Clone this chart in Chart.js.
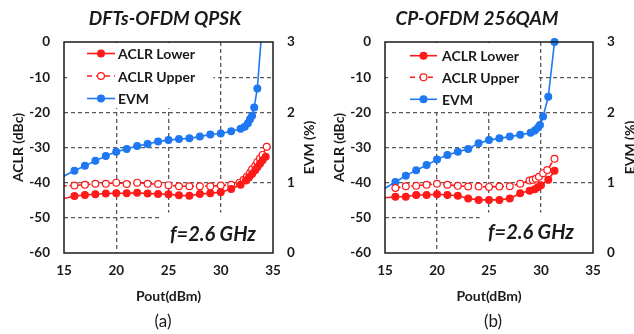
<!DOCTYPE html>
<html>
<head>
<meta charset="utf-8">
<script src="https://cdn.jsdelivr.net/npm/chart.js@4.4.0/dist/chart.umd.min.js"></script>
<style>
  body { margin: 0; background: #fff; }
  #wrap { display: flex; width: 634px; height: 334px; }
  .panel { position: relative; width: 317px; height: 334px; }
</style>
</head>
<body>
<div id="wrap">
  <div class="panel"><canvas id="chartA" width="317" height="334"></canvas></div>
  <div class="panel"><canvas id="chartB" width="317" height="334"></canvas></div>
</div>
<script>
// ---- data ----
// (a) DFTs-OFDM QPSK
const evmA_pout = [14, 16, 17, 18, 19, 20, 21, 22, 23, 24, 25, 26, 27, 28, 29, 30, 31, 31.9, 32.3, 32.6, 32.8, 33.0, 33.2, 33.5, 34.0];
const evmA = [1.02, 1.17, 1.24, 1.31, 1.38, 1.44, 1.48, 1.52, 1.55, 1.585, 1.605, 1.62, 1.63, 1.655, 1.685, 1.70, 1.73, 1.765, 1.795, 1.845, 1.90, 1.95, 2.07, 2.34, 3.3];
const lowerA_pout = [14, 16, 17, 18, 19, 20, 21, 22, 23, 24, 25, 26, 27, 28, 29, 30, 31, 31.9, 32.4, 32.7, 33.0, 33.3, 33.5, 33.75, 34.0, 34.3];
const lowerA = [-45.2, -43.8, -43.5, -43.3, -43.1, -43.0, -43.0, -42.9, -43.1, -43.2, -43.3, -43.6, -43.7, -43.2, -43.0, -42.7, -41.8, -40.6, -39.4, -38.5, -37.5, -36.5, -35.6, -34.6, -33.6, -32.6];
const upperA_pout = [14, 16, 17, 18, 19, 20, 21, 22, 23, 24, 25, 26, 27, 28, 29, 30, 31, 31.8, 32.2, 32.5, 32.8, 33.0, 33.3, 33.5, 33.75, 34.0, 34.4];
const upperA = [-41.0, -40.8, -40.6, -40.3, -40.3, -40.0, -40.4, -40.0, -40.3, -40.4, -40.7, -41.0, -41.0, -41.0, -41.0, -40.8, -40.6, -40.0, -39.2, -38.3, -37.2, -36.2, -35.2, -34.1, -33.1, -32.1, -29.8];

// (b) CP-OFDM 256QAM
const evmB_pout = [14, 16, 17, 18, 19, 20, 21, 22, 23, 24, 25, 26, 27, 28, 29, 29.4, 29.7, 29.9, 30.2, 30.7, 31.3];
const evmB = [0.83, 1.01, 1.10, 1.175, 1.25, 1.33, 1.395, 1.44, 1.48, 1.56, 1.605, 1.63, 1.655, 1.68, 1.71, 1.74, 1.78, 1.82, 1.94, 2.22, 3.0];
const lowerB_pout = [14, 16, 17, 18, 19, 20, 21, 22, 23, 24, 25, 26, 27, 28, 28.9, 29.4, 29.7, 30.0, 30.7, 31.3];
const lowerB = [-44.6, -44.0, -44.0, -43.5, -43.5, -43.3, -43.5, -43.7, -44.5, -44.9, -44.9, -44.9, -44.5, -43.0, -42.3, -41.9, -41.3, -40.7, -39.2, -36.6];
const upperB_pout = [16, 17, 18, 19, 20, 21, 22, 23, 24, 25, 26, 27, 28, 28.9, 29.2, 29.5, 29.8, 30.2, 30.6, 31.3];
const upperB = [-41.5, -41.0, -40.9, -40.6, -40.3, -40.6, -40.9, -41.1, -41.1, -41.2, -41.1, -41.0, -40.3, -39.4, -39.2, -38.9, -38.3, -37.3, -36.4, -33.2];

const seriesNames = ['ACLR Lower', 'ACLR Upper', 'EVM'];
const poutTicks = [15, 20, 25, 30, 35];
const aclrRange = [-60, 0];
const evmRange = [0, 3];

const RED = '#ff1a1a';
const BLUE = '#1f78f2';
const FONT = 'Lato, "Open Sans", sans-serif';

function pts(xs, ys) {
  return xs.map((x, i) => ({ x: x, y: ys[i] }));
}

// white boxes behind legend / annotation + frame + extra text
const extras = {
  id: 'extras',
  beforeDatasetsDraw(chart, args, o) {
    const ctx = chart.ctx, x = chart.scales.x, y = chart.scales.y;
    ctx.save();
    ctx.fillStyle = '#fff';
    o.boxes.forEach(b => {
      const x1 = x.getPixelForValue(b[0]), x2 = x.getPixelForValue(b[1]);
      const y1 = y.getPixelForValue(b[2]), y2 = y.getPixelForValue(b[3]);
      ctx.fillRect(x1, y1, x2 - x1, y2 - y1);
    });
    ctx.restore();
  },
  afterDraw(chart, args, o) {
    const ctx = chart.ctx, a = chart.chartArea;
    ctx.save();
    // frame
    ctx.strokeStyle = '#1a1a1a';
    ctx.lineWidth = 1.5;
    ctx.strokeRect(a.left, a.top, a.right - a.left, a.bottom - a.top);

    ctx.fillStyle = '#1a1a1a';
    ctx.textBaseline = 'middle';
    ctx.textAlign = 'center';
    // title
    ctx.font = 'italic bold 19px ' + FONT;
    ctx.fillText(o.title, o.titleX, 19);
    // x title
    ctx.font = 'bold 14px ' + FONT;
    ctx.fillText('Pout(dBm)', (a.left + a.right) / 2, 296);
    // y titles
    const midY = (a.top + a.bottom) / 2;
    ctx.save();
    ctx.translate(o.yTitleX, midY);
    ctx.rotate(-Math.PI / 2);
    ctx.fillText('ACLR (dBc)', 0, 0);
    ctx.restore();
    ctx.save();
    ctx.translate(o.y2TitleX, midY);
    ctx.rotate(-Math.PI / 2);
    ctx.fillText('EVM (%)', 0, 0);
    ctx.restore();
    // caption
    ctx.font = '17px ' + FONT;
    ctx.fillText(o.caption, o.captionX, 322);
    // annotation
    ctx.font = 'italic bold 20px ' + FONT;
    ctx.fillText('f=2.6 GHz', a.left + o.annoX, o.annoY);

    // legend
    const lg = o.legend;
    ctx.textAlign = 'left';
    ctx.font = 'bold 14px ' + FONT;
    seriesNames.forEach((name, i) => {
      const ly = a.top + lg.rows[i];
      const x1 = a.left + lg.x1, x2 = a.left + lg.x2, xm = (x1 + x2) / 2;
      const col = i === 2 ? BLUE : RED;
      ctx.strokeStyle = col;
      ctx.lineWidth = 1.6;
      ctx.setLineDash(i === 1 ? [5, 4] : []);
      ctx.beginPath();
      ctx.moveTo(x1, ly);
      ctx.lineTo(x2, ly);
      ctx.stroke();
      ctx.setLineDash([]);
      ctx.beginPath();
      ctx.arc(xm, ly, 3.4, 0, Math.PI * 2);
      ctx.fillStyle = i === 1 ? '#fff' : col;
      ctx.fill();
      ctx.lineWidth = 1.2;
      ctx.stroke();
      ctx.fillStyle = '#1a1a1a';
      ctx.fillText(name, a.left + lg.text, ly + 1);
    });
    ctx.restore();
  }
};

function makeChart(id, d, p) {
  const tickFont = { family: FONT, size: 13.5, weight: 'bold' };
  const line = (label, data, color, open, dash, clip, axis) => ({
    label: label,
    data: data,
    yAxisID: axis,
    borderColor: color,
    backgroundColor: open ? '#fff' : color,
    pointBackgroundColor: open ? '#fff' : color,
    pointBorderColor: color,
    pointBorderWidth: 1.2,
    pointRadius: 3.4,
    borderWidth: 1.6,
    borderDash: dash,
    tension: 0,
    clip: clip
  });
  return new Chart(document.getElementById(id), {
    type: 'line',
    data: {
      datasets: [
        line(seriesNames[0], pts(d.lowerX, d.lower), RED, false, [], 0, 'y'),
        line(seriesNames[1], pts(d.upperX, d.upper), RED, true, [5, 3], 0, 'y'),
        line(seriesNames[2], pts(d.evmX, d.evm), BLUE, false, [], p.evmClip, 'y2')
      ]
    },
    options: {
      responsive: false,
      animation: false,
      devicePixelRatio: 1,
      layout: { padding: { top: 42, bottom: 0, left: 0, right: 0 } },
      plugins: {
        legend: { display: false },
        tooltip: { enabled: false },
        extras: p
      },
      scales: {
        x: {
          type: 'linear',
          min: poutTicks[0],
          max: poutTicks[poutTicks.length - 1],
          afterBuildTicks: s => { s.ticks = poutTicks.map(v => ({ value: v })); },
          afterFit: s => { s.height = 81; },
          ticks: { font: tickFont, color: '#1a1a1a', padding: 10, maxRotation: 0 },
          grid: {
            drawTicks: false,
            lineWidth: 1.3,
            color: c => (c.tick && (c.tick.value === 15 || c.tick.value === 35)) ? 'rgba(0,0,0,0)' : '#5a5a5a'
          },
          border: { display: false, dash: [4, 3] }
        },
        y: {
          position: 'left',
          min: aclrRange[0],
          max: aclrRange[1],
          afterFit: s => { s.width = p.leftW; },
          ticks: { stepSize: 10, font: tickFont, color: '#1a1a1a', padding: 14 },
          grid: {
            drawTicks: false,
            lineWidth: 1.3,
            color: c => (c.tick && (c.tick.value === -60 || c.tick.value === 0)) ? 'rgba(0,0,0,0)' : '#5a5a5a'
          },
          border: { display: false, dash: [4, 3] }
        },
        y2: {
          position: 'right',
          min: evmRange[0],
          max: evmRange[1],
          afterFit: s => { s.width = p.rightW; },
          ticks: { stepSize: 1, font: tickFont, color: '#1a1a1a', padding: 14 },
          grid: { display: false, drawTicks: false },
          border: { display: false }
        }
      }
    },
    plugins: [extras]
  });
}

makeChart('chartA',
  { lowerX: lowerA_pout, lower: lowerA, upperX: upperA_pout, upper: upperA, evmX: evmA_pout, evm: evmA },
  {
    leftW: 64, rightW: 44, title: 'DFTs-OFDM QPSK', titleX: 165, caption: '(a)', captionX: 163,
    yTitleX: 18, y2TitleX: 309, annoX: 149, annoY: 235, evmClip: 0,
    boxes: [[15.3, 29.3, -0.3, -18.8], [24.3, 35, -48.5, -60]],
    legend: { x1: 23, x2: 51, text: 54, rows: [11.5, 34, 56.5] }
  });

makeChart('chartB',
  { lowerX: lowerB_pout, lower: lowerB, upperX: upperB_pout, upper: upperB, evmX: evmB_pout, evm: evmB },
  {
    leftW: 68, rightW: 41, title: 'CP-OFDM 256QAM', titleX: 160, caption: '(b)', captionX: 176,
    yTitleX: 22, y2TitleX: 313, annoX: 146, annoY: 233, evmClip: { left: 0, top: 6, right: 6, bottom: 0 },
    boxes: [[15.3, 29.6, -0.3, -19.5], [24.1, 35, -48.5, -60]],
    legend: { x1: 25, x2: 52, text: 57, rows: [13.7, 35.3, 57.3] }
  });
</script>
</body>
</html>
